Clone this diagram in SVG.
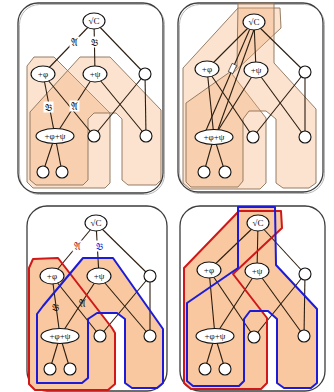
<svg xmlns="http://www.w3.org/2000/svg" width="334" height="392" viewBox="0 0 334 392">
<style>
.bg{fill:#fff}
.frame{fill:none;stroke:#3c3c3c;stroke-width:1.3}
.shadow{fill:none;stroke:#b8b8b8;stroke-width:1}
.reg{fill:#f3a96e;fill-opacity:0.33;stroke:#8a7058;stroke-width:0.9}
.regS{fill:#f9c8a0;stroke:none}
.red{fill:none;stroke:#d01818;stroke-width:2;stroke-linejoin:round}
.blue{fill:none;stroke:#1c1cd8;stroke-width:2;stroke-linejoin:round}
.e{stroke:#2b1d10;stroke-width:1.1;fill:none}
.n{fill:#fff;stroke:#111;stroke-width:1.1}
.t{font-family:"Liberation Serif","DejaVu Serif",serif;font-size:9px;text-anchor:middle;dominant-baseline:central;fill:#111}
.lb{font-family:"DejaVu Serif","DejaVu Sans","Noto Sans",serif;font-size:10px;text-anchor:middle;dominant-baseline:central;fill:#111}
.lbox{fill:#fff;stroke:none}
</style>
<rect class="bg" x="0" y="0" width="334" height="392"/>

<!-- Panel 1 -->
<g id="panel1">
<rect class="shadow" x="19.5" y="4.5" width="145" height="190" rx="20"/>
<rect class="frame" x="18" y="3" width="145" height="190" rx="20"/>
<g id="p1-regions">
<polygon class="reg" points="27,66 34,57 54,57 110,113 110,183 105,188 33,188 27,182"/>
<polygon class="reg" points="80,57 110,57 161,110 161,180 156,185 128,185 122,180 122,119 116,113 94,113 88,119 88,180 83,185 36,185 30,180 30,112"/>
</g>
<g id="p1-connectors">
<line class="e" x1="94" y1="21" x2="43" y2="74"/>
<line class="e" x1="94" y1="21" x2="95" y2="74"/>
<line class="e" x1="94" y1="21" x2="145" y2="74"/>
<line class="e" x1="43" y1="74" x2="55" y2="136"/>
<line class="e" x1="43" y1="74" x2="94" y2="136"/>
<line class="e" x1="95" y1="74" x2="55" y2="136"/>
<line class="e" x1="95" y1="74" x2="146" y2="136"/>
<line class="e" x1="145" y1="74" x2="94" y2="136"/>
<line class="e" x1="145" y1="74" x2="146" y2="136"/>
<line class="e" x1="55" y1="136" x2="43" y2="172"/>
<line class="e" x1="55" y1="136" x2="62" y2="172"/>
<rect class="lbox" x="69.5" y="36.5" width="10" height="11"/><text class="lb" x="74.5" y="42">𝔄</text>
<rect class="lbox" x="89.5" y="36.5" width="10" height="11"/><text class="lb" x="94.5" y="42">𝔅</text>
<rect class="lbox" x="43.5" y="101.5" width="10" height="11"/><text class="lb" x="48.5" y="107">𝔅</text>
<rect class="lbox" x="69.5" y="100.5" width="10" height="11"/><text class="lb" x="74.5" y="106">𝔄</text>
</g>
<g id="p1-sqrtC"><ellipse class="n" cx="94" cy="21" rx="11" ry="8"/><text class="t" x="94" y="21">√C</text></g>
<g id="p1-phi"><ellipse class="n" cx="43" cy="74" rx="12" ry="8"/><text class="t" x="43" y="74">+φ</text></g>
<g id="p1-psi"><ellipse class="n" cx="95" cy="74" rx="12" ry="8"/><text class="t" x="95" y="74">+ψ</text></g>
<g id="p1-r"><circle class="n" cx="145" cy="74" r="6"/></g>
<g id="p1-phipsi"><ellipse class="n" cx="55" cy="136" rx="19" ry="7.5"/><text class="t" x="55" y="136">+φ+ψ</text></g>
<g id="p1-c1"><circle class="n" cx="94" cy="136" r="6"/></g>
<g id="p1-c2"><circle class="n" cx="146" cy="136" r="6"/></g>
<g id="p1-b1"><circle class="n" cx="43" cy="172" r="6"/></g>
<g id="p1-b2"><circle class="n" cx="62" cy="172" r="6"/></g>
</g>

<!-- Panel 2 -->
<g id="panel2">
<rect class="shadow" x="179.5" y="4.5" width="145" height="189" rx="20"/>
<rect class="frame" x="178" y="3" width="145" height="189" rx="20"/>
<g id="p2-regions">
<polygon class="reg" points="238,8 280,8 281,28 232,74 266,118 266,183 260,189 190,189 183,183 183,68"/>
<polygon class="reg" points="238,3 274,3 274,63 316,109 316,183 309,188 283,188 276,183 276,119 266,111 249,111 243,119 243,181 238,187 191,187 186,182 186,103 237,67"/>
</g>
<g id="p2-connectors">
<line class="e" x1="254" y1="22" x2="207" y2="69"/>
<line class="e" x1="254" y1="22" x2="256" y2="70"/>
<line class="e" x1="254" y1="22" x2="305" y2="72"/>
<line class="e" x1="252" y1="24" x2="204" y2="135"/>
<line class="e" x1="256" y1="24" x2="216" y2="135"/>
<line class="e" x1="207" y1="69" x2="214" y2="137"/>
<line class="e" x1="207" y1="69" x2="253" y2="137"/>
<line class="e" x1="256" y1="70" x2="214" y2="137"/>
<line class="e" x1="256" y1="70" x2="305" y2="137"/>
<line class="e" x1="305" y1="72" x2="253" y2="137"/>
<line class="e" x1="305" y1="72" x2="305" y2="137"/>
<line class="e" x1="214" y1="137" x2="204" y2="172"/>
<line class="e" x1="214" y1="137" x2="225" y2="172"/>
<rect class="n" x="230" y="64" width="5" height="9" transform="rotate(25 232.5 68.5)" style="stroke-width:0.6"/>
</g>
<g id="p2-sqrtC"><ellipse class="n" cx="254" cy="22" rx="11" ry="8"/><text class="t" x="254" y="22">√C</text></g>
<g id="p2-phi"><ellipse class="n" cx="207" cy="69" rx="12" ry="8"/><text class="t" x="207" y="69">+φ</text></g>
<g id="p2-psi"><ellipse class="n" cx="256" cy="70" rx="12" ry="8"/><text class="t" x="256" y="70">+ψ</text></g>
<g id="p2-r"><circle class="n" cx="305" cy="72" r="6"/></g>
<g id="p2-phipsi"><ellipse class="n" cx="214" cy="137" rx="19" ry="7.5"/><text class="t" x="214" y="137">+φ+ψ</text></g>
<g id="p2-c1"><circle class="n" cx="253" cy="137" r="6"/></g>
<g id="p2-c2"><circle class="n" cx="305" cy="137" r="6"/></g>
<g id="p2-b1"><circle class="n" cx="204" cy="172" r="6"/></g>
<g id="p2-b2"><circle class="n" cx="225" cy="172" r="6"/></g>
</g>

<!-- Panel 3 -->
<g id="panel3">
<rect class="frame" x="27" y="206" width="140" height="185" rx="20"/>
<g id="p3-regions">
<polygon class="regS" points="29,268 33,259 58,258 112,328 115,333 115,384 108,390 35,390 29,384"/>
<polygon class="regS" points="37,383 37,314 43,306 83,258 113,258 163,329 163,383 157,388 132,388 125,383 125,319 117,313 97,313 88,319 88,378 82,383"/>
</g>
<g id="p3-connectors">
<line class="e" x1="96" y1="223" x2="52" y2="276"/>
<line class="e" x1="96" y1="223" x2="99" y2="276"/>
<line class="e" x1="96" y1="223" x2="150" y2="276"/>
<line class="e" x1="52" y1="276" x2="60" y2="336"/>
<line class="e" x1="52" y1="276" x2="100" y2="336"/>
<line class="e" x1="99" y1="276" x2="60" y2="336"/>
<line class="e" x1="99" y1="276" x2="150" y2="336"/>
<line class="e" x1="150" y1="276" x2="100" y2="336"/>
<line class="e" x1="150" y1="276" x2="150" y2="336"/>
<line class="e" x1="60" y1="336" x2="50" y2="369"/>
<line class="e" x1="60" y1="336" x2="70" y2="369"/>
<rect class="lbox" x="72.5" y="240.5" width="10" height="11"/><text class="lb" x="77.5" y="246" style="fill:#b01818">𝔄</text>
<rect class="lbox" x="94.5" y="240.5" width="10" height="11"/><text class="lb" x="99.5" y="246" style="fill:#1c1cd8">𝔅</text>
<text class="lb" x="55.5" y="307">𝔅</text>
<text class="lb" x="82" y="303">𝔄</text>
</g>
<g id="p3-outlines">
<polygon class="red" points="29,268 33,259 58,258 112,328 115,333 115,384 108,390 35,390 29,384"/>
<polygon class="blue" points="37,383 37,314 43,306 83,258 113,258 163,329 163,383 157,388 132,388 125,383 125,319 117,313 97,313 88,319 88,378 82,383"/>
</g>
<g id="p3-sqrtC"><ellipse class="n" cx="96" cy="223" rx="11" ry="8"/><text class="t" x="96" y="223">√C</text></g>
<g id="p3-phi"><ellipse class="n" cx="52" cy="276" rx="12" ry="8"/><text class="t" x="52" y="276">+φ</text></g>
<g id="p3-psi"><ellipse class="n" cx="99" cy="276" rx="12" ry="8"/><text class="t" x="99" y="276">+ψ</text></g>
<g id="p3-r"><circle class="n" cx="150" cy="276" r="6"/></g>
<g id="p3-phipsi"><ellipse class="n" cx="60" cy="336" rx="19" ry="7.5"/><text class="t" x="60" y="336">+φ+ψ</text></g>
<g id="p3-c1"><circle class="n" cx="100" cy="336" r="6"/></g>
<g id="p3-c2"><circle class="n" cx="150" cy="336" r="6"/></g>
<g id="p3-b1"><circle class="n" cx="50" cy="369" r="6"/></g>
<g id="p3-b2"><circle class="n" cx="70" cy="369" r="6"/></g>
</g>

<!-- Panel 4 -->
<g id="panel4">
<rect class="frame" x="180" y="206" width="145" height="185" rx="20"/>
<g id="p4-regions">
<polygon class="regS" points="239,211 281,211 282,228 233,274 267,318 267,383 261,389 191,389 184,383 184,268"/>
<polygon class="regS" points="238,207 275,207 276,265 317,309 317,383 311,388 284,388 277,383 277,319 268,311 250,311 244,319 244,381 239,386 193,386 187,381 187,303 238,268"/>
</g>
<g id="p4-connectors">
<line class="e" x1="258" y1="223" x2="209" y2="270"/>
<line class="e" x1="258" y1="223" x2="257" y2="271"/>
<line class="e" x1="258" y1="223" x2="305" y2="274"/>
<line class="e" x1="209" y1="270" x2="215" y2="336"/>
<line class="e" x1="209" y1="270" x2="254" y2="337"/>
<line class="e" x1="257" y1="271" x2="215" y2="336"/>
<line class="e" x1="257" y1="271" x2="304" y2="336"/>
<line class="e" x1="305" y1="274" x2="254" y2="337"/>
<line class="e" x1="305" y1="274" x2="304" y2="336"/>
<line class="e" x1="215" y1="336" x2="205" y2="369"/>
<line class="e" x1="215" y1="336" x2="225" y2="369"/>
</g>
<g id="p4-outlines">
<polygon class="red" points="239,211 281,211 282,228 233,274 267,318 267,383 261,389 191,389 184,383 184,268"/>
<polygon class="blue" points="238,207 275,207 276,265 317,309 317,383 311,388 284,388 277,383 277,319 268,311 250,311 244,319 244,381 239,386 193,386 187,381 187,303 238,268"/>
</g>
<g id="p4-sqrtC"><ellipse class="n" cx="258" cy="223" rx="11" ry="8"/><text class="t" x="258" y="223">√C</text></g>
<g id="p4-phi"><ellipse class="n" cx="209" cy="270" rx="12" ry="8"/><text class="t" x="209" y="270">+φ</text></g>
<g id="p4-psi"><ellipse class="n" cx="257" cy="271" rx="12" ry="8"/><text class="t" x="257" y="271">+ψ</text></g>
<g id="p4-r"><circle class="n" cx="305" cy="274" r="6"/></g>
<g id="p4-phipsi"><ellipse class="n" cx="215" cy="336" rx="19" ry="7.5"/><text class="t" x="215" y="336">+φ+ψ</text></g>
<g id="p4-c1"><circle class="n" cx="254" cy="337" r="6"/></g>
<g id="p4-c2"><circle class="n" cx="304" cy="336" r="6"/></g>
<g id="p4-b1"><circle class="n" cx="205" cy="369" r="6"/></g>
<g id="p4-b2"><circle class="n" cx="225" cy="369" r="6"/></g>
</g>
</svg>
